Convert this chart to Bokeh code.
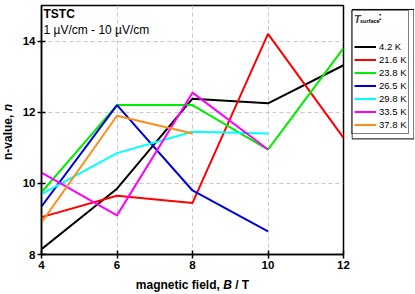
import math
from bokeh.plotting import figure
from bokeh.models import Label, Legend, LegendItem, FixedTicker, Range1d, BoxAnnotation
from bokeh.layouts import row, column
from bokeh.embed import file_html
from bokeh.resources import INLINE

# ---- data ----
field_T = [4, 6, 8, 10, 12]
temps = ["4.2 K", "21.6 K", "23.8 K", "26.5 K", "29.8 K", "33.5 K", "37.8 K"]
n_4K2 = [8.15, 9.85, 12.38, 12.25, 13.32]
n_21K6 = [9.05, 9.65, 9.45, 14.2, 11.28]
n_23K8 = [9.75, 12.2, 12.2, 10.95, 13.8]
n_26K5 = [9.35, 12.2, 9.8, 8.65]
n_29K8 = [9.7, 10.85, 11.45, 11.4]
n_33K5 = [10.3, 9.1, 12.55, 10.95]
n_37K8 = [8.9, 11.9, 11.4]
series = [n_4K2, n_21K6, n_23K8, n_26K5, n_29K8, n_33K5, n_37K8]
colors = ["#000000", "#ff0000", "#00ee00", "#0000dd", "#00ffff", "#ff00ff", "#ff8c1a"]
x_ticks = [4, 6, 8, 10, 12]
y_ticks = [8, 10, 12, 14]

FONT = "Liberation Sans"
TOTAL_W, TOTAL_H = 414, 293
YL_W = 15
TOP_H = 274
P_LB, P_RB, P_TB = 26, 8, 5
FW, FH = 302, 249
P_W = P_LB + FW + P_RB
P_BB = TOP_H - P_TB - FH
LEG_W = TOTAL_W - YL_W - P_W
XL_H = TOTAL_H - TOP_H
STRIP_FB = 252   # frame bottom (canvas px) observed for the tall strips


def blank(w, h):
    f = figure(width=w, height=h, output_backend="svg", toolbar_location=None,
               x_range=Range1d(0, 1), y_range=Range1d(0, 1), title=None,
               x_axis_type=None, y_axis_type=None, min_border=0,
               min_border_left=0, min_border_right=0, min_border_top=0,
               min_border_bottom=0)
    f.outline_line_color = None
    f.background_fill_color = "white"
    f.border_fill_color = "white"
    return f


def lab(fig, text, x, y, size, style="normal", angle=0.0, align="left"):
    fig.add_layout(Label(x=x, y=y, x_units="screen", y_units="screen", text=text,
                         text_font=FONT, text_font_size=size,
                         text_font_style=style, text_align=align,
                         text_baseline="middle", angle=angle, text_color="black"))


p = figure(width=P_W, height=TOP_H, output_backend="svg", toolbar_location=None,
           x_range=Range1d(4, 12), y_range=Range1d(8, 15),
           min_border_left=P_LB, min_border_right=P_RB, min_border_top=P_TB,
           min_border_bottom=P_BB)
p.background_fill_color = "white"
p.border_fill_color = "white"
p.outline_line_color = "black"
p.outline_line_width = 1.5

for ys, c in zip(series, colors):
    p.line(field_T[:len(ys)], ys, line_color=c, line_width=2)

for ax, ticks in ((p.xaxis[0], x_ticks), (p.yaxis[0], y_ticks)):
    ax.ticker = FixedTicker(ticks=ticks)
    ax.axis_line_color = "black"
    ax.axis_line_width = 1.5
    ax.major_tick_line_color = "black"
    ax.major_tick_line_width = 1.5
    ax.major_tick_in = 4
    ax.major_tick_out = 4
    ax.minor_tick_line_color = None
    ax.major_label_text_font = FONT
    ax.major_label_text_font_style = "bold"
    ax.major_label_text_font_size = "11.5px"
    ax.major_label_text_color = "black"
    ax.major_label_standoff = 2
    ax.axis_label = None

for g in (p.xgrid[0], p.ygrid[0]):
    g.grid_line_color = "#c8c8c8"
    g.grid_line_dash = "4 3"
    g.grid_line_width = 1
p.xgrid[0].ticker = FixedTicker(ticks=x_ticks)
p.ygrid[0].ticker = FixedTicker(ticks=y_ticks)

lab(p, "TSTC", 2, FH - 8, "12px", "bold")
lab(p, "1 \u00b5V/cm - 10 \u00b5V/cm", 2, FH - 24.5, "12px")

# ---- legend strip ----
leg = blank(LEG_W, TOP_H)
leg_r = []
for ys, c in zip(series, colors):
    # same series; the strip's ranges keep them out of view, only legend glyphs show
    leg_r.append(leg.line(field_T[:len(ys)], ys, line_color=c, line_width=2))
items = [LegendItem(label=t, renderers=[r]) for t, r in zip(temps, leg_r)]
legend = Legend(items=items, location=(0, STRIP_FB - 4 - 128), orientation="vertical")
legend.title = "T"
legend.title_text_font = FONT
legend.title_text_font_style = "bold italic"
legend.title_text_font_size = "11px"
legend.title_standoff = 15
legend.border_line_color = "black"
legend.border_line_width = 1
legend.background_fill_alpha = 0
legend.padding = 2
legend.margin = 0
legend.spacing = 0
legend.glyph_width = 22
legend.glyph_height = 13
legend.label_height = 13
legend.label_standoff = 3
legend.label_text_font = FONT
legend.label_text_font_size = "9.5px"
legend.label_text_color = "black"
legend.label_text_baseline = "middle"
leg.add_layout(legend, "center")

# frame box around the legend (fractions of the strip's frame)
box_left_px, box_right_px, box_top_px, box_bottom_px = 0.5, LEG_W - 0.5, 4, 135
leg.add_layout(BoxAnnotation(left=box_left_px / LEG_W, right=box_right_px / LEG_W,
                             top=(STRIP_FB - box_top_px) / STRIP_FB,
                             bottom=(STRIP_FB - box_bottom_px) / STRIP_FB,
                             fill_alpha=0, line_color="black", line_width=1,
                             line_alpha=1))

lab(leg, "surface", 8.5, STRIP_FB - 18.5, "5.5px", "bold italic")
lab(leg, ":", 27, STRIP_FB - 13.5, "10px", "bold")

# ---- y label strip ----
yl = blank(YL_W, TOP_H)
xs = 12 / 1000.0
v1 = 4057 * xs
v2 = 611 * xs
fc = STRIP_FB - (P_TB + FH / 2)
y0 = fc - (v1 + v2) / 2
lab(yl, "n-value,", 7, y0, "12px", "bold", angle=math.pi / 2)
lab(yl, "n", 7, y0 + v1, "12px", "bold italic", angle=math.pi / 2)

# ---- x label strip ----
xl = blank(TOTAL_W, XL_H)
w1 = 7280 * xs
w2 = 722 * xs
w3 = 1445 * xs
cx = YL_W + P_LB + FW / 2
x0 = cx - (w1 + w2 + w3) / 2
ylab = XL_H - 10
lab(xl, "magnetic field,", x0, ylab, "12px", "bold")
lab(xl, "B", x0 + w1, ylab, "12px", "bold italic")
lab(xl, "/ T", x0 + w1 + w2 + 278 * xs, ylab, "12px", "bold")

layout = column(row(yl, p, leg, spacing=0), xl, spacing=0)
open("out.html", "w").write(file_html(layout, INLINE))
